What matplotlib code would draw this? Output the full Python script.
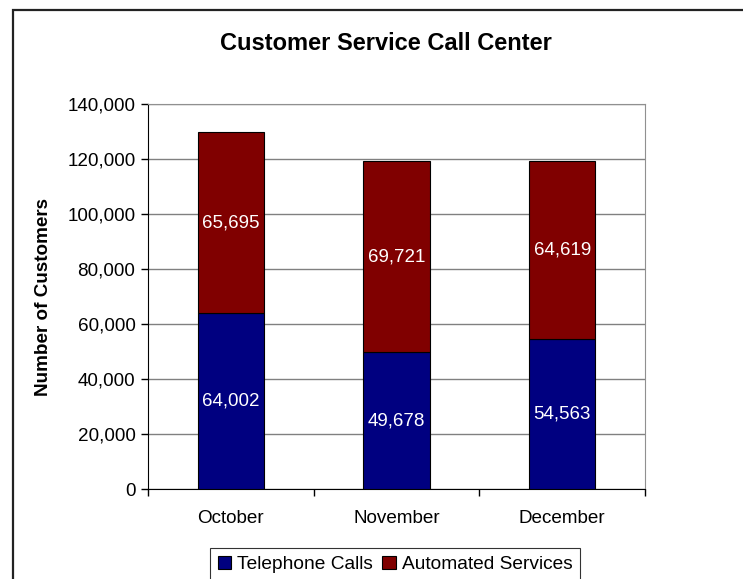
import matplotlib.pyplot as plt
from matplotlib.patches import Rectangle
from matplotlib.ticker import FuncFormatter

months = ["October", "November", "December"]
telephone = [64002, 49678, 54563]
automated = [65695, 69721, 64619]

plt.rcParams['font.family'] = ['Liberation Sans', 'DejaVu Sans']

fig = plt.figure(figsize=(7.43, 5.79), dpi=100)
W, H = 743, 579

# chart border (runs off the right and bottom edges)
fig.patches.append(Rectangle((13 / W, -0.05), 1.0, 1 - 9.5 / H + 0.05,
                             transform=fig.transFigure, fill=False,
                             edgecolor='#222222', linewidth=1.6))

ax = fig.add_axes([148 / W, 1 - 489 / H, (645 - 148) / W, (489 - 104) / H])

x = range(len(months))
b1 = ax.bar(x, telephone, width=0.4, color='#000080', edgecolor='black',
            linewidth=0.8, label='Telephone Calls', zorder=3)
b2 = ax.bar(x, automated, width=0.4, bottom=telephone, color='#800000',
            edgecolor='black', linewidth=0.8, label='Automated Services', zorder=3)

for bars in (b1, b2):
    ax.bar_label(bars, labels=[f"{v:,}" for v in bars.datavalues],
                 label_type='center', color='white', fontsize=13.5)

ax.set_xlim(-0.5, 2.5)
ax.set_ylim(0, 140000)
ax.set_yticks(range(0, 140001, 20000))
ax.yaxis.set_major_formatter(FuncFormatter(lambda v, p: f"{int(v):,}"))
ax.grid(axis='y', color='#808080', linewidth=1, zorder=0)

ax.set_xticks(x)
ax.set_xticklabels(months)
ax.set_xticks([-0.5, 0.5, 1.5, 2.5], minor=True)
ax.tick_params(axis='x', which='major', length=0, pad=15, labelsize=13.6)
ax.tick_params(axis='x', which='minor', length=5, width=1, direction='out')
ax.tick_params(axis='y', length=5, width=1, direction='out', labelsize=13.6, pad=4)

for s in ('top', 'right'):
    ax.spines[s].set_color('#909090')
ax.spines['left'].set_color('black')
ax.spines['bottom'].set_color('black')

ax.set_ylabel("Number of Customers", fontsize=13.6, fontweight='bold', labelpad=11)
fig.text(386 / W, 1 - 43 / H, "Customer Service Call Center", ha='center',
         va='center', fontsize=17, fontweight='bold')

leg = fig.legend(loc='upper center', bbox_to_anchor=(395 / W, 1 - 548 / H),
                 borderaxespad=0, ncol=2, fontsize=13.8, frameon=True,
                 fancybox=False, handlelength=0.7, handleheight=0.7,
                 handletextpad=0.3, columnspacing=0.5, borderpad=0.4,
                 edgecolor='black')
leg.get_frame().set_linewidth(0.8)

fig.savefig("out.png", dpi=100)
